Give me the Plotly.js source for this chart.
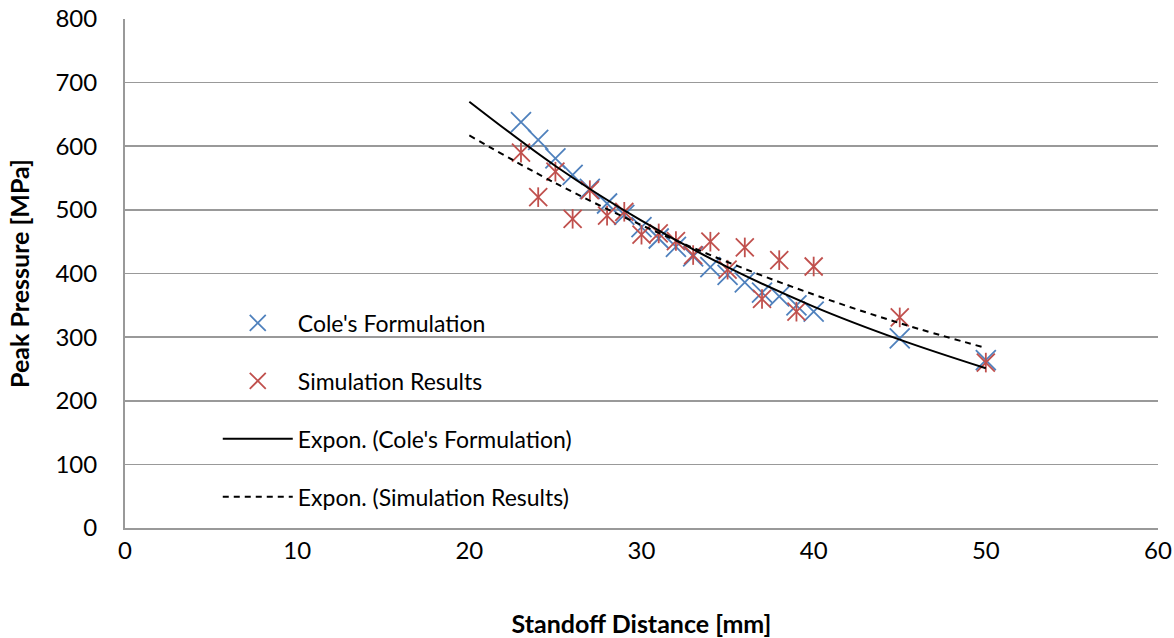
<!DOCTYPE html>
<html>
<head>
<meta charset="utf-8">
<script src="https://cdn.plot.ly/plotly-3.0.1.min.js"></script>
<style>
  html, body { margin: 0; padding: 0; background: #ffffff; }
  #chart { width: 1174px; height: 638px; }
</style>
</head>
<body>
<div id="chart"></div>
<script>
// Standoff distance [mm]
const distances = [23, 24, 25, 26, 27, 28, 29, 30, 31, 32, 33, 34, 35, 36, 37, 38, 39, 40, 45, 50];
// Cole's Formulation peak pressure [MPa]
const colesPressure = [638, 610, 581, 555, 533, 510, 492, 473, 455, 442, 427, 410, 398, 386, 370, 364, 350, 340, 298, 264];
// Simulation results peak pressure [MPa]
const simPressure = [590, 520, 560, 486, 531, 491, 497, 461, 463, 451, 429, 450, 406, 441, 360, 421, 340, 411, 331, 260];
// Exponential trendlines
const trendX = [20, 25, 30, 35, 40, 45, 50];
const colesTrend = [670, 569, 483, 410, 348, 296, 251];
const simTrend = [617, 542, 476, 418, 367, 322, 283];

const seriesNames = ["Cole's Formulation", "Simulation Results", "Expon. (Cole's Formulation)", "Expon. (Simulation Results)"];
const xTitle = "Standoff Distance [mm]";
const yTitle = "Peak Pressure [MPa]";

const FONT = "Lato, 'Open Sans', sans-serif";
const blue = "#4F81BD";
const red = "#C0504D";

const traces = [
  {
    x: distances, y: colesPressure, type: "scatter", mode: "markers",
    name: seriesNames[0], legendgroup: "a", legendrank: 1,
    marker: { symbol: "x-thin-open", size: 20, color: blue, line: { color: blue, width: 1.8 } }
  },
  {
    x: distances, y: simPressure, type: "scatter", mode: "markers",
    name: seriesNames[1], legendgroup: "b", legendrank: 2,
    marker: { symbol: "x-thin-open", size: 18, color: red, line: { color: red, width: 1.8 } }
  },
  {
    x: distances, y: simPressure, type: "scatter", mode: "markers",
    name: seriesNames[1], legendgroup: "b", showlegend: false,
    marker: { symbol: "line-ns-open", size: 14, color: red, line: { color: red, width: 1.8 } }
  },
  {
    x: trendX, y: colesTrend, type: "scatter", mode: "lines",
    name: seriesNames[2], legendgroup: "c", legendrank: 3,
    line: { color: "#000000", width: 2, shape: "spline" }
  },
  {
    x: trendX, y: simTrend, type: "scatter", mode: "lines",
    name: seriesNames[3], legendgroup: "d", legendrank: 4,
    line: { color: "#000000", width: 2, dash: "6px,5px", shape: "spline" }
  }
];

const layout = {
  width: 1174, height: 638,
  margin: { l: 125, r: 16, t: 19, b: 110, pad: 0 },
  paper_bgcolor: "#ffffff", plot_bgcolor: "#ffffff",
  font: { family: FONT, size: 23, color: "#000000" },
  showlegend: true,
  legend: {
    x: 0.0898, y: 0.445, xanchor: "left", yanchor: "top",
    bgcolor: "rgba(255,255,255,0)", borderwidth: 0,
    traceorder: "grouped", tracegroupgap: 25,
    itemwidth: 70,
    font: { family: FONT, size: 23, color: "#000000" }
  },
  xaxis: {
    range: [0, 60], dtick: 10, tick0: 0,
    showgrid: false, zeroline: false,
    showline: true, linecolor: "#999999", linewidth: 2,
    ticks: "", ticklabelstandoff: 0,
    tickfont: { family: FONT, size: 24, color: "#000000" },
    title: { text: xTitle, standoff: 55, font: { family: FONT, size: 25, color: "#000000", weight: "bold" } },
    automargin: false
  },
  yaxis: {
    range: [0, 800], dtick: 100, tick0: 0,
    showgrid: true, gridcolor: "#999999", gridwidth: 1.6,
    zeroline: false,
    showline: true, linecolor: "#999999", linewidth: 2,
    ticks: "", ticklabelstandoff: 21,
    tickfont: { family: FONT, size: 24, color: "#000000" },
    title: { text: yTitle, standoff: 19, font: { family: FONT, size: 25, color: "#000000", weight: "bold" } },
    automargin: false
  }
};

Plotly.newPlot("chart", traces, layout, { displayModeBar: false, staticPlot: true });
</script>
</body>
</html>
